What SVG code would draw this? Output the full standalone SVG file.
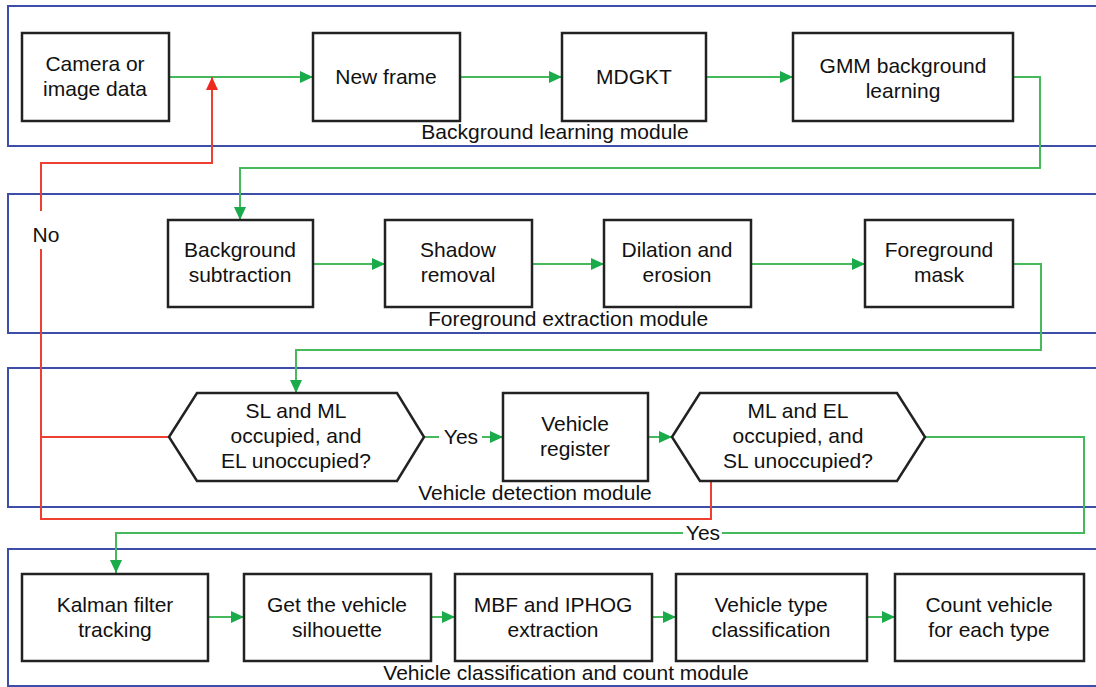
<svg xmlns="http://www.w3.org/2000/svg" width="1096" height="687" viewBox="0 0 1096 687">
  <style>
    .module { fill: none; stroke: #3d4ea8; stroke-width: 2; }
    .box { fill: #fff; stroke: #222; stroke-width: 2.5; }
    .t { font-family: "Liberation Sans", Arial, sans-serif; font-size: 21px; fill: #111; text-anchor: middle; }
    .g { fill: none; stroke: #45b95b; stroke-width: 2; }
    .r { fill: none; stroke: #ee4030; stroke-width: 2; }
  </style>
  <defs>
    <marker id="ag" markerWidth="13" markerHeight="12" refX="13" refY="6" orient="auto" markerUnits="userSpaceOnUse">
      <path d="M0,0 L13,6 L0,12 z" fill="#1aab4a"/>
    </marker>
    <marker id="ar" markerWidth="13" markerHeight="12" refX="13" refY="6" orient="auto" markerUnits="userSpaceOnUse">
      <path d="M0,0 L13,6 L0,12 z" fill="#ee2a1e"/>
    </marker>
  </defs>
  <rect width="1096" height="687" fill="#fff"/>

  <!-- module frames -->
  <g id="modules">
    <rect class="module" x="8" y="6" width="1100" height="140"/>
    <rect class="module" x="8" y="194" width="1100" height="139"/>
    <rect class="module" x="8" y="368" width="1100" height="139"/>
    <rect class="module" x="8" y="549" width="1100" height="137"/>
    <text class="t" x="555" y="139">Background learning module</text>
    <text class="t" x="568" y="326">Foreground extraction module</text>
    <text class="t" x="535" y="500">Vehicle detection module</text>
    <text class="t" x="566" y="680">Vehicle classification and count module</text>
  </g>

  <!-- connectors -->
  <g id="connectors">
    <path class="g" d="M169,77 H313" marker-end="url(#ag)"/>
    <path class="g" d="M460,77 H562" marker-end="url(#ag)"/>
    <path class="g" d="M706,77 H793" marker-end="url(#ag)"/>
    <path class="g" d="M1013,77 H1040 V168 H240 V220" marker-end="url(#ag)"/>
    <path class="g" d="M313,264 H385" marker-end="url(#ag)"/>
    <path class="g" d="M532,264 H604" marker-end="url(#ag)"/>
    <path class="g" d="M751,264 H865" marker-end="url(#ag)"/>
    <path class="g" d="M1013,264 H1041 V350 H296 V393" marker-end="url(#ag)"/>
    <path class="g" d="M424,437 H439"/>
    <path class="g" d="M482,437 H503" marker-end="url(#ag)"/>
    <text class="t" x="461" y="444">Yes</text>
    <path class="g" d="M648,437 H672" marker-end="url(#ag)"/>
    <path class="g" d="M925,437 H1084 V533 H722"/>
    <path class="g" d="M683,533 H116 V573" marker-end="url(#ag)"/>
    <text class="t" x="703" y="540">Yes</text>
    <path class="g" d="M208,617 H244" marker-end="url(#ag)"/>
    <path class="g" d="M431,617 H455" marker-end="url(#ag)"/>
    <path class="g" d="M652,617 H676" marker-end="url(#ag)"/>
    <path class="g" d="M867,617 H895" marker-end="url(#ag)"/>

    <path class="r" d="M169,437 H41"/>
    <path class="r" d="M711,481 V519 H41 V249"/>
    <path class="r" d="M41,211 V163 H212 V77" marker-end="url(#ar)"/>
    <text class="t" x="46" y="242">No</text>
  </g>

  <!-- background learning -->
  <g id="camera">
    <rect class="box" x="22" y="33" width="147" height="88"/>
    <text class="t" x="95" y="71">Camera or</text>
    <text class="t" x="95" y="96">image data</text>
  </g>
  <g id="new-frame">
    <rect class="box" x="313" y="33" width="147" height="88"/>
    <text class="t" x="386" y="84">New frame</text>
  </g>
  <g id="mdgkt">
    <rect class="box" x="562" y="33" width="144" height="88"/>
    <text class="t" x="634" y="84">MDGKT</text>
  </g>
  <g id="gmm">
    <rect class="box" x="793" y="33" width="220" height="88"/>
    <text class="t" x="903" y="73">GMM background</text>
    <text class="t" x="903" y="98">learning</text>
  </g>

  <!-- foreground extraction -->
  <g id="bg-sub">
    <rect class="box" x="168" y="220" width="145" height="87"/>
    <text class="t" x="240" y="257">Background</text>
    <text class="t" x="240" y="282">subtraction</text>
  </g>
  <g id="shadow">
    <rect class="box" x="385" y="220" width="147" height="87"/>
    <text class="t" x="458" y="257">Shadow</text>
    <text class="t" x="458" y="282">removal</text>
  </g>
  <g id="dilation">
    <rect class="box" x="604" y="220" width="147" height="87"/>
    <text class="t" x="677" y="257">Dilation and</text>
    <text class="t" x="677" y="282">erosion</text>
  </g>
  <g id="fg-mask">
    <rect class="box" x="865" y="220" width="148" height="87"/>
    <text class="t" x="939" y="257">Foreground</text>
    <text class="t" x="939" y="282">mask</text>
  </g>

  <!-- vehicle detection -->
  <g id="check-entry">
    <polygon class="box" points="169,437 197,393 397,393 424,437 397,481 197,481"/>
    <text class="t" x="296" y="418">SL and ML</text>
    <text class="t" x="296" y="443">occupied, and</text>
    <text class="t" x="296" y="468">EL unoccupied?</text>
  </g>
  <g id="register">
    <rect class="box" x="503" y="393" width="145" height="88"/>
    <text class="t" x="575" y="431">Vehicle</text>
    <text class="t" x="575" y="456">register</text>
  </g>
  <g id="check-exit">
    <polygon class="box" points="672,437 700,393 897,393 925,437 897,481 700,481"/>
    <text class="t" x="798" y="418">ML and EL</text>
    <text class="t" x="798" y="443">occupied, and</text>
    <text class="t" x="798" y="468">SL unoccupied?</text>
  </g>

  <!-- classification and count -->
  <g id="kalman">
    <rect class="box" x="22" y="574" width="186" height="87"/>
    <text class="t" x="115" y="612">Kalman filter</text>
    <text class="t" x="115" y="637">tracking</text>
  </g>
  <g id="silhouette">
    <rect class="box" x="244" y="574" width="187" height="87"/>
    <text class="t" x="337" y="612">Get the vehicle</text>
    <text class="t" x="337" y="637">silhouette</text>
  </g>
  <g id="features">
    <rect class="box" x="455" y="574" width="197" height="87"/>
    <text class="t" x="553" y="612">MBF and IPHOG</text>
    <text class="t" x="553" y="637">extraction</text>
  </g>
  <g id="type">
    <rect class="box" x="676" y="574" width="191" height="87"/>
    <text class="t" x="771" y="612">Vehicle type</text>
    <text class="t" x="771" y="637">classification</text>
  </g>
  <g id="count">
    <rect class="box" x="895" y="574" width="189" height="87"/>
    <text class="t" x="989" y="612">Count vehicle</text>
    <text class="t" x="989" y="637">for each type</text>
  </g>
</svg>
